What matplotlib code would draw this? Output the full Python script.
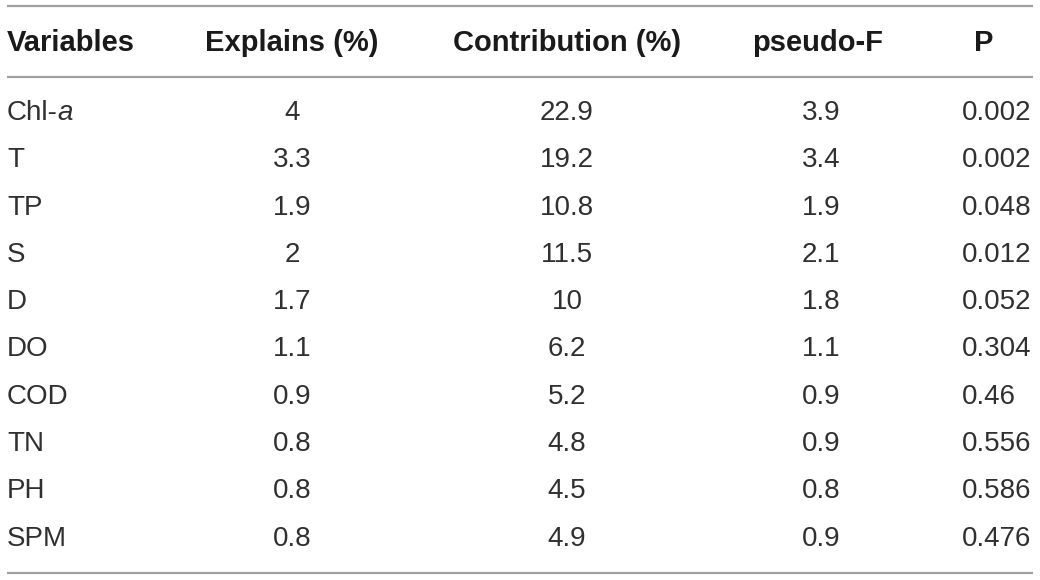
import matplotlib.pyplot as plt

plt.rcParams['font.family'] = ['Liberation Sans', 'DejaVu Sans']

# tabel data
headers = ['Variables', 'Explains (%)', 'Contribution (%)', 'pseudo-F', 'P']
variables = ['Chl-', 'T', 'TP', 'S', 'D', 'DO', 'COD', 'TN', 'PH', 'SPM']
explains = ['4', '3.3', '1.9', '2', '1.7', '1.1', '0.9', '0.8', '0.8', '0.8']
contribution = ['22.9', '19.2', '10.8', '11.5', '10', '6.2', '5.2', '4.8', '4.5', '4.9']
pseudo_f = ['3.9', '3.4', '1.9', '2.1', '1.8', '1.1', '0.9', '0.9', '0.8', '0.9']
p_values = ['0.002', '0.002', '0.048', '0.012', '0.052', '0.304', '0.46', '0.556', '0.586', '0.476']

W, H = 1040, 580
fig = plt.figure(figsize=(W / 100, H / 100), dpi=100)
ax = fig.add_axes([0, 0, 1, 1])
ax.set_xlim(0, W)
ax.set_ylim(H, 0)
ax.axis('off')

line_col = '#a0a0a0'
txt_col = '#303030'
fs_body = 20
fs_head = 21

# horizontale lijnen
for y in (6, 77, 573):
    ax.plot([7, 1033], [y, y], color=line_col, lw=1.6, solid_capstyle='butt')

# kolomposities: (x, uitlijning)
head_pos = [(7, 'left'), (292, 'center'), (567, 'center'), (818, 'center'), (984, 'center')]
body_pos = [(7, 'left'), (292, 'center'), (567, 'center'), (821, 'center'), (962, 'left')]

header_y = 43
for (x, ha), h in zip(head_pos, headers):
    ax.text(x, header_y, h, ha=ha, va='center', fontsize=fs_head, fontweight='bold', color='#1a1a1a')

row_y0 = 113
row_step = 47.3
columns = [variables, explains, contribution, pseudo_f, p_values]
for i in range(len(variables)):
    y = row_y0 + i * row_step
    for (x, ha), col in zip(body_pos, columns):
        t = ax.text(x, y, col[i], ha=ha, va='center', fontsize=fs_body, color=txt_col)
        if col is variables and i == 0:
            # cursieve a achter Chl-
            ax.annotate('a', xy=(1, 0), xycoords=t, xytext=(-0.5, 0), textcoords='offset points',
                        ha='left', va='bottom', fontsize=fs_body, style='italic', color=txt_col)

fig.savefig('out.png', dpi=100, facecolor='white')
